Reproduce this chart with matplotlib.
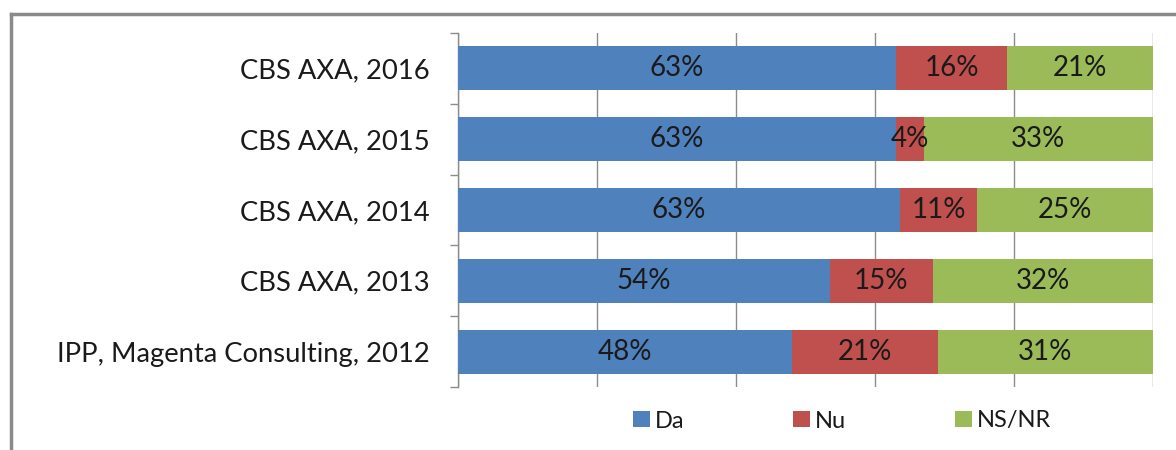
import matplotlib
matplotlib.use("Agg")
import matplotlib.pyplot as plt
from matplotlib.lines import Line2D
from matplotlib.patches import Patch
import numpy as np

categories = ["IPP, Magenta Consulting, 2012", "CBS AXA, 2013", "CBS AXA, 2014",
              "CBS AXA, 2015", "CBS AXA, 2016"]
series_names = ["Da", "Nu", "NS/NR"]
da = [48, 54, 63, 63, 63]
nu = [21, 15, 11, 4, 16]
nsnr = [31, 32, 25, 33, 21]
colors = ["#4F81BD", "#C0504D", "#9BBB59"]

plt.rcParams['font.family'] = ['Lato', 'DejaVu Sans']
TXT = "#1a1a1a"
GRID = "#8c8c8c"

fig = plt.figure(figsize=(11.76, 4.5), dpi=100)
ax = fig.add_axes([458/1176, 1-387/450, (1153-458)/1176, (387-33)/450])

data = np.array([da, nu, nsnr], dtype=float)
totals = data.sum(axis=0)
shares = data / totals * 100
y = np.arange(len(categories))
left = np.zeros(len(categories))
for vals, shr, name, col in zip(data, shares, series_names, colors):
    ax.barh(y, shr, left=left, height=0.62, color=col, label=name,
            edgecolor='none', zorder=3)
    for yi, l, w, v in zip(y, left, shr, vals):
        ax.text(l + w/2, yi, f"{int(v)}%", ha='center', va='center',
                fontsize=20, color=TXT, zorder=4)
    left = left + shr

ax.set_xlim(0, 100)
ax.set_ylim(-0.5, len(categories) - 0.5)
ax.set_xticks(np.arange(0, 101, 20))
ax.tick_params(axis='x', length=0, labelbottom=False)
ax.xaxis.grid(True, color=GRID, linewidth=1, zorder=0)
ax.set_axisbelow(True)

ax.set_yticks(y)
ax.set_yticklabels(categories, fontsize=19.7, color=TXT)
ax.tick_params(axis='y', which='major', length=0, pad=20.5)
ax.set_yticks(np.arange(-0.5, len(categories), 1), minor=True)
ax.tick_params(axis='y', which='minor', length=6, color=GRID, width=1)

for s in ['top', 'right', 'bottom']:
    ax.spines[s].set_visible(False)
ax.spines['left'].set_color(GRID)
ax.spines['left'].set_linewidth(1)

handles = [Patch(facecolor=c, edgecolor='none') for c in colors]
fig.legend(handles, series_names, loc='center', bbox_to_anchor=(842/1176, 1-421/450),
           ncol=3, frameon=False, fontsize=17, handlelength=0.72, handleheight=0.65,
           handletextpad=0.22, columnspacing=4.6, labelcolor=TXT,
           borderpad=0, borderaxespad=0)

# outer chart frame (top and left edges visible)
fig.add_artist(Line2D([11/1176, 11/1176], [0, 1-14/450], transform=fig.transFigure,
                      color="#8a8a8a", linewidth=2.5))
fig.add_artist(Line2D([11/1176, 1], [1-14/450, 1-14/450], transform=fig.transFigure,
                      color="#8a8a8a", linewidth=2.5))

fig.savefig("out.png", dpi=100)
